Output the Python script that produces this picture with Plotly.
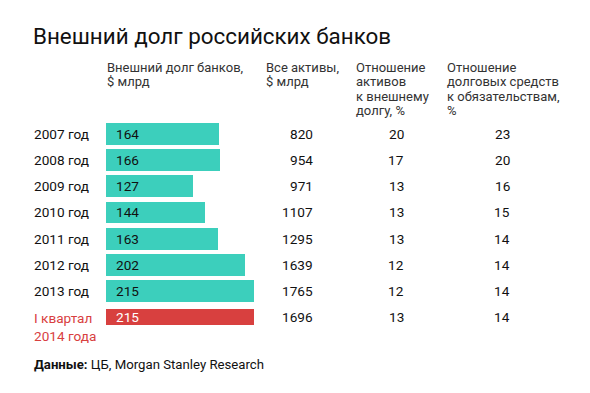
import plotly.graph_objects as go

title = "Внешний долг российских банков"
row_labels = ["2007 год", "2008 год", "2009 год", "2010 год", "2011 год",
              "2012 год", "2013 год", "I квартал<br>2014 года"]
external_debt = [164, 166, 127, 144, 163, 202, 215, 215]
total_assets = [820, 954, 971, 1107, 1295, 1639, 1765, 1696]
assets_to_debt = [20, 17, 13, 13, 13, 12, 12, 13]
debt_to_liab = [23, 20, 16, 15, 14, 14, 14, 14]
headers = [["Внешний долг банков,", "$ млрд"],
           ["Все активы,", "$ млрд"],
           ["Отношение", "активов", "к внешнему", "долгу, %"],
           ["Отношение", "долговых средств", "к обязательствам,", "%"]]
source = "<b>Данные:</b> ЦБ, Morgan Stanley Research"

TEAL = "#3ccfbc"
RED = "#d8403f"
DARK = "#111111"
FONT = "Roboto"
W, H = 590, 393
OFF = 8  # page offset of the figure inside the browser window


def px(v):
    return (v - OFF) / W


def py(v):
    return 1 - (v - OFF) / H


n = len(row_labels)
idx = list(range(n))
colors = [TEAL] * (n - 1) + [RED]
widths = [0.84] * (n - 1) + [0.58]
text_colors = [DARK] * (n - 1) + ["white"]

fig = go.Figure()
fig.add_trace(go.Bar(
    y=idx, x=external_debt, orientation="h",
    marker=dict(color=colors, line=dict(width=0)),
    width=widths,
    textposition="none",
    hoverinfo="skip",
))

x0_px, x1_px = 106, 254
top_px, bot_px = 134 - 26.14 * 0.5, 134 + 26.14 * 7.5

num_font = dict(family=FONT, size=13.6, color=DARK)

annotations = []
annotations.append(dict(text=title, x=px(31), y=py(36), xref="paper", yref="paper",
                        xanchor="left", yanchor="middle", showarrow=False,
                        font=dict(family=FONT, size=22.4, color=DARK)))
for i, lab in enumerate(row_labels):
    last = i == n - 1
    annotations.append(dict(text=lab, x=px(32), y=i, xref="paper", yref="y",
                            xanchor="left", yanchor="top" if last else "middle",
                            yshift=9 if last else 0,
                            showarrow=False, align="left",
                            font=dict(family=FONT, size=13.6, color=RED if last else DARK)))
    annotations.append(dict(text=str(external_debt[i]), x=0, y=i, xref="x", yref="y",
                            xanchor="left", yanchor="middle", xshift=8, showarrow=False,
                            font=dict(num_font, color=text_colors[i])))
    annotations.append(dict(text=str(total_assets[i]), x=px(315), y=i, xref="paper", yref="y",
                            xanchor="right", yanchor="middle", showarrow=False,
                            font=num_font))
    annotations.append(dict(text=str(assets_to_debt[i]), x=px(396), y=i, xref="paper", yref="y",
                            xanchor="center", yanchor="middle", showarrow=False,
                            font=num_font))
    annotations.append(dict(text=str(debt_to_liab[i]), x=px(502), y=i, xref="paper", yref="y",
                            xanchor="center", yanchor="middle", showarrow=False,
                            font=num_font))
for hx, lines in zip([105, 264, 354, 445], headers):
    for j, line in enumerate(lines):
        annotations.append(dict(text=line, x=px(hx), y=py(67 + 14.6 * j), xref="paper", yref="paper",
                                xanchor="left", yanchor="middle", showarrow=False, align="left",
                                font=dict(family=FONT, size=13, color="#333333")))
annotations.append(dict(text=source, x=px(32), y=py(364), xref="paper", yref="paper",
                        xanchor="left", yanchor="middle", showarrow=False,
                        font=dict(family=FONT, size=13.2, color=DARK)))

fig.update_layout(
    width=W, height=H,
    margin=dict(l=0, r=0, t=0, b=0),
    paper_bgcolor="white", plot_bgcolor="white",
    showlegend=False,
    bargap=0,
    xaxis=dict(domain=[px(x0_px), px(x1_px)], range=[0, 215], visible=False, fixedrange=True),
    yaxis=dict(domain=[py(bot_px), py(top_px)], range=[n - 0.5, -0.5],
               visible=False, fixedrange=True),
    annotations=annotations,
)

fig.write_html("out.html")
